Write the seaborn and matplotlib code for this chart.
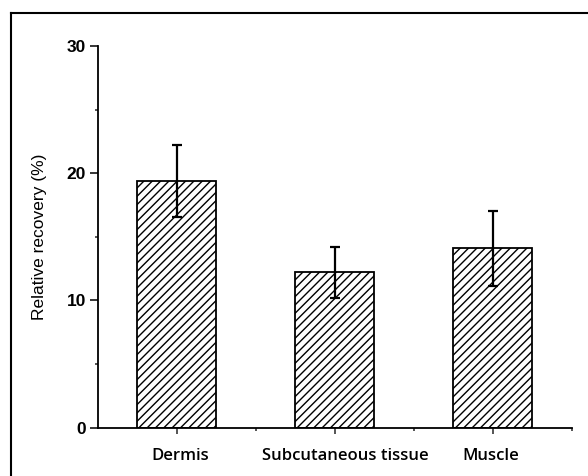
import matplotlib
matplotlib.use("Agg")
import matplotlib.pyplot as plt
from matplotlib.lines import Line2D
from matplotlib.ticker import MultipleLocator, FixedLocator
from matplotlib.transforms import ScaledTranslation
import seaborn as sns
import pandas as pd
import numpy as np

categories = ["Dermis", "Subcutaneous tissue", "Muscle"]
means = [19.4, 12.2, 14.1]
errors = [2.85, 2.0, 2.95]
yticks = [0, 10, 20, 30]

sns.set_theme(style="ticks")
plt.rcParams["font.family"] = ["Liberation Sans", "DejaVu Sans"]
plt.rcParams["hatch.linewidth"] = 1.0
plt.rcParams["hatch.color"] = "black"

df = pd.DataFrame({"tissue": categories, "recovery": means})

fig = plt.figure(figsize=(5.88, 4.76), dpi=100)
ax = fig.add_axes([98/588, 1-427.7/476, (571.7-98)/588, (427.7-46)/476])

sns.barplot(data=df, x="tissue", y="recovery", order=categories, ax=ax,
            width=0.5, color="white", edgecolor="black", linewidth=1.3,
            errorbar=None, hatch="////")
for p in ax.patches:
    p.set_hatch("////")
    p.set_facecolor("white")

ax.errorbar(np.arange(len(categories)), means, yerr=errors, fmt="none",
            ecolor="black", elinewidth=1.6, capsize=3.5, capthick=1.6, zorder=5)

ax.set_xlim(-0.5, 2.5)
ax.set_ylim(0, 30)
ax.set_yticks(yticks)
ax.set_yticklabels([str(v) for v in yticks], fontweight="bold", fontsize=12.5)
ax.yaxis.set_minor_locator(MultipleLocator(5))
ax.xaxis.set_minor_locator(FixedLocator([0.5, 1.5, 2.5]))
ax.tick_params(axis="y", which="major", direction="out", length=5.5, width=1.1, pad=3, colors="black")
ax.tick_params(axis="y", which="minor", direction="out", length=2.2, width=1.1)
ax.tick_params(axis="x", which="major", direction="out", length=4.3, width=1.1, pad=10)
ax.tick_params(axis="x", which="minor", direction="out", length=2.2, width=1.1)
label_shift_px = [3, 10, -2]
for lab, dx in zip(ax.get_xticklabels(), label_shift_px):
    lab.set_fontfamily(["Open Sans", "DejaVu Sans"])
    lab.set_fontweight("semibold")
    lab.set_fontsize(12)
    lab.set_color("black")
    lab.set_transform(lab.get_transform() + ScaledTranslation(dx / 100, 0, fig.dpi_scale_trans))

ax.set_xlabel("")
ax.set_ylabel("Relative recovery (%)", fontsize=12.5, color="black", labelpad=14)

sns.despine(ax=ax)
for s in ["left", "bottom"]:
    ax.spines[s].set_linewidth(1.3)
    ax.spines[s].set_color("black")

fig.add_artist(Line2D([11/588, 11/588], [0, 1-13/476], transform=fig.transFigure,
                      color="black", linewidth=1.5, solid_capstyle="projecting"))
fig.add_artist(Line2D([11/588, 1], [1-13/476, 1-13/476], transform=fig.transFigure,
                      color="black", linewidth=1.5, solid_capstyle="projecting"))

fig.savefig("out.png", dpi=100, facecolor="white")
